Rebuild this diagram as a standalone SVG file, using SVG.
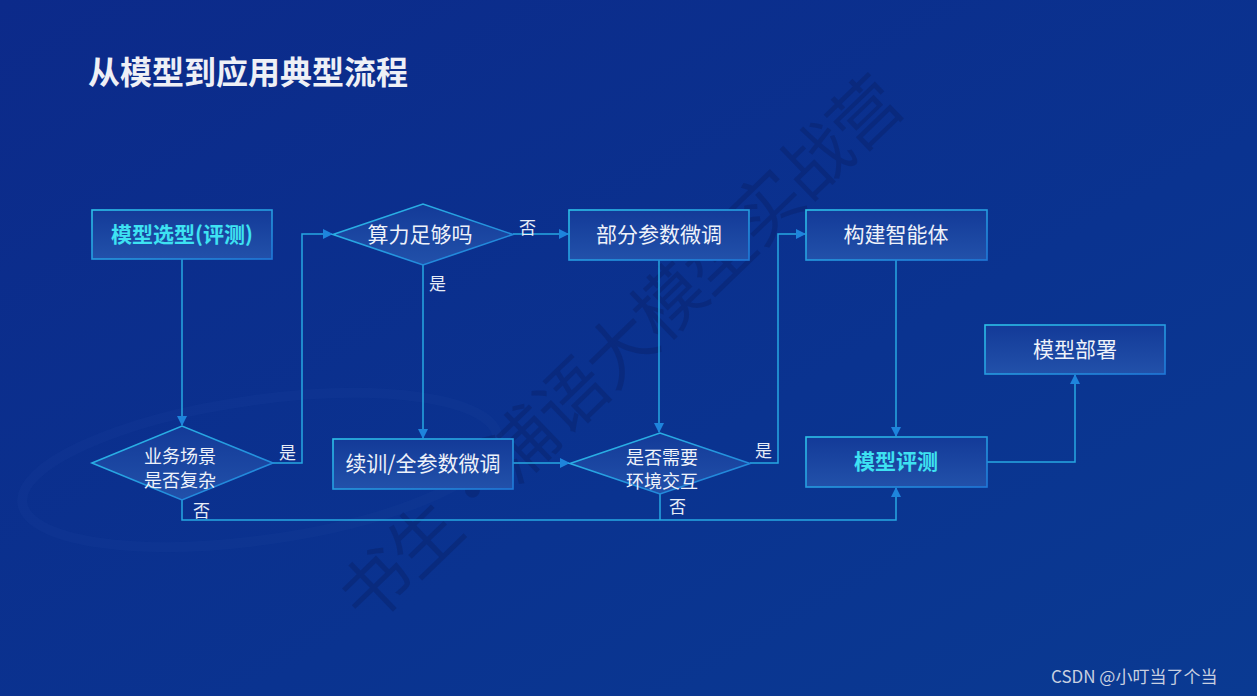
<svg xmlns="http://www.w3.org/2000/svg" width="1257" height="696" viewBox="0 0 1257 696">
<defs>
<linearGradient id="bg" x1="0" y1="0" x2="1" y2="1">
<stop offset="0" stop-color="#0c2a8a"/>
<stop offset="0.6" stop-color="#0a3390"/>
<stop offset="1" stop-color="#0a3a92"/>
</linearGradient>
<linearGradient id="nodefill" x1="0" y1="0" x2="0" y2="1">
<stop offset="0" stop-color="#133a98"/>
<stop offset="1" stop-color="#2251aa"/>
</linearGradient>
<linearGradient id="nodestroke" x1="0" y1="0" x2="1" y2="1">
<stop offset="0" stop-color="#2cc0e8"/>
<stop offset="1" stop-color="#1f78d8"/>
</linearGradient>
<marker id="arr" viewBox="0 0 10 10" refX="9" refY="5" markerWidth="10" markerHeight="10" markerUnits="userSpaceOnUse" orient="auto">
<path d="M0,0 L10,5 L0,10 z" fill="#1e84dc"/>
</marker>
</defs>
<style>
.node{fill:url(#nodefill);stroke:url(#nodestroke);stroke-width:1.6}
.t{font-family:"Noto Sans CJK SC","Liberation Sans",sans-serif;font-size:21px;fill:#eef2fa;text-anchor:middle}
.d{font-size:18px}
.hl{fill:#3ee2f2;font-weight:bold}
.lbl{font-family:"Noto Sans CJK SC","Liberation Sans",sans-serif;font-size:17px;fill:#e6ecf6}
.conn{fill:none;stroke:#27a8e2;stroke-width:1.5}
</style>
<rect width="1257" height="696" fill="url(#bg)"/>
<ellipse cx="260" cy="470" rx="240" ry="70" fill="none" stroke="#3a66b8" stroke-opacity="0.07" stroke-width="10" transform="rotate(-8 260 470)"/>
<text x="0" y="0" transform="translate(368,628) rotate(-44)" font-family="Noto Sans CJK SC,sans-serif" font-size="70" fill="#0a1c5e" fill-opacity="0.35" letter-spacing="-2">书生·浦语大模型实战营</text>
<text x="88" y="84" font-family="Noto Sans CJK SC,sans-serif" font-size="32" font-weight="bold" fill="#eef0f6">从模型到应用典型流程</text>
<g id="connectors">
<path class="conn" d="M182,259 V425" marker-end="url(#arr)"/>
<path class="conn" d="M273,463 H302 V234 H332" marker-end="url(#arr)"/>
<path class="conn" d="M182,500 V520 H896 V488" marker-end="url(#arr)"/>
<path class="conn" d="M513,234 H568" marker-end="url(#arr)"/>
<path class="conn" d="M423,265 V438" marker-end="url(#arr)"/>
<path class="conn" d="M659,260 V432" marker-end="url(#arr)"/>
<path class="conn" d="M513,463 H569" marker-end="url(#arr)"/>
<path class="conn" d="M750,463 H778 V234 H805" marker-end="url(#arr)"/>
<path class="conn" d="M660,494 V520"/>
<path class="conn" d="M896,260 V436" marker-end="url(#arr)"/>
<path class="conn" d="M987,462 H1075 V375" marker-end="url(#arr)"/>
<text class="lbl" x="279" y="459">是</text>
<text class="lbl" x="193" y="517">否</text>
<text class="lbl" x="519" y="234">否</text>
<text class="lbl" x="429" y="290">是</text>
<text class="lbl" x="755" y="457">是</text>
<text class="lbl" x="669" y="513">否</text>
</g>
<g id="n-select"><rect class="node" x="92" y="210" width="180" height="49"/><text class="t hl" x="182" y="242">模型选型(评测)</text></g>
<g id="n-compute"><polygon class="node" points="333,234.5 423,204 513,234.5 423,265"/><text class="t" x="420" y="242" font-size="20">算力足够吗</text></g>
<g id="n-partial"><rect class="node" x="569" y="210" width="180" height="50"/><text class="t" x="659" y="242">部分参数微调</text></g>
<g id="n-agent"><rect class="node" x="806" y="210" width="181" height="50"/><text class="t" x="896" y="242">构建智能体</text></g>
<g id="n-deploy"><rect class="node" x="985" y="325" width="180" height="49"/><text class="t" x="1075" y="357">模型部署</text></g>
<g id="n-scene"><polygon class="node" points="92,463 182,426 273,463 182,500"/><text class="t d" x="180" y="463">业务场景</text><text class="t d" x="180" y="487">是否复杂</text></g>
<g id="n-full"><rect class="node" x="333" y="439" width="180" height="50"/><text class="t" x="423" y="471">续训/全参数微调</text></g>
<g id="n-env"><polygon class="node" points="570,463.5 660,433 750,463.5 660,494"/><text class="t d" x="662" y="464">是否需要</text><text class="t d" x="662" y="488">环境交互</text></g>
<g id="n-eval"><rect class="node" x="806" y="437" width="181" height="50"/><text class="t hl" x="896" y="469">模型评测</text></g>
<text x="1051" y="683" font-family="Noto Sans CJK SC,Liberation Sans,sans-serif" font-size="17" fill="#c8d0e0">CSDN @小叮当了个当</text>
</svg>
